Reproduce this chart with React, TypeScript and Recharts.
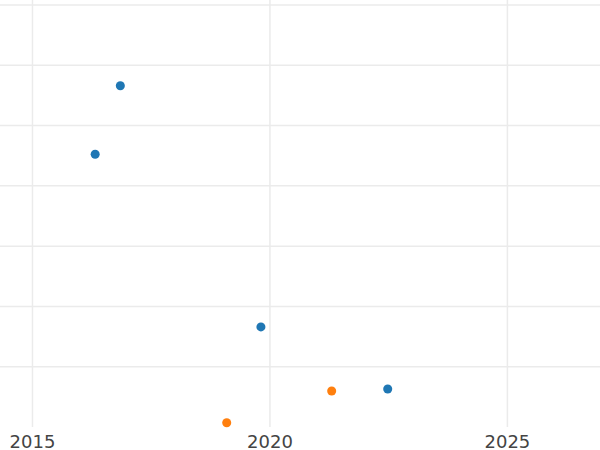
import { ReferenceLine, Scatter, ScatterChart, XAxis, YAxis } from "recharts";

type Pt = { year: number; value: number };

const blueSeries: Pt[] = [
  { year: 2016.85, value: 5.66 },
  { year: 2016.32, value: 4.525 },
  { year: 2019.81, value: 1.66 },
  { year: 2022.48, value: 0.63 },
];

const orangeSeries: Pt[] = [
  { year: 2019.09, value: 0.071 },
  { year: 2021.3, value: 0.597 },
];

const xTicks = [2015, 2020, 2025];
const yTicks = [1, 2, 3, 4, 5, 6, 7];

const gridColor = "#ebebeb";

export default function App() {
  return (
    <div style={{ position: "fixed", top: 0, left: 0, background: "#fff" }}>
      <ScatterChart
        width={600}
        height={450}
        margin={{ top: 0, right: 0, bottom: 0, left: 0 }}
      >
        {/* grid drawn as reference lines so the plot edges stay clean */}
        {yTicks.map((t) => (
          <ReferenceLine key={"y" + t} y={t} stroke={gridColor} strokeWidth={1.5} />
        ))}
        {xTicks.map((t) => (
          <ReferenceLine key={"x" + t} x={t} stroke={gridColor} strokeWidth={1.5} />
        ))}
        <XAxis
          type="number"
          dataKey="year"
          domain={[2014.316, 2026.95]}
          ticks={xTicks}
          height={23}
          axisLine={false}
          tickLine={false}
          tick={{ fontSize: 18, fill: "#444", fontFamily: "DejaVu Sans" }}
        />
        <YAxis
          type="number"
          dataKey="value"
          domain={[0, 7.083]}
          ticks={yTicks}
          hide
        />
        <Scatter data={blueSeries} fill="#1f77b4" isAnimationActive={false} />
        <Scatter data={orangeSeries} fill="#ff7f0e" isAnimationActive={false} />
      </ScatterChart>
    </div>
  );
}
